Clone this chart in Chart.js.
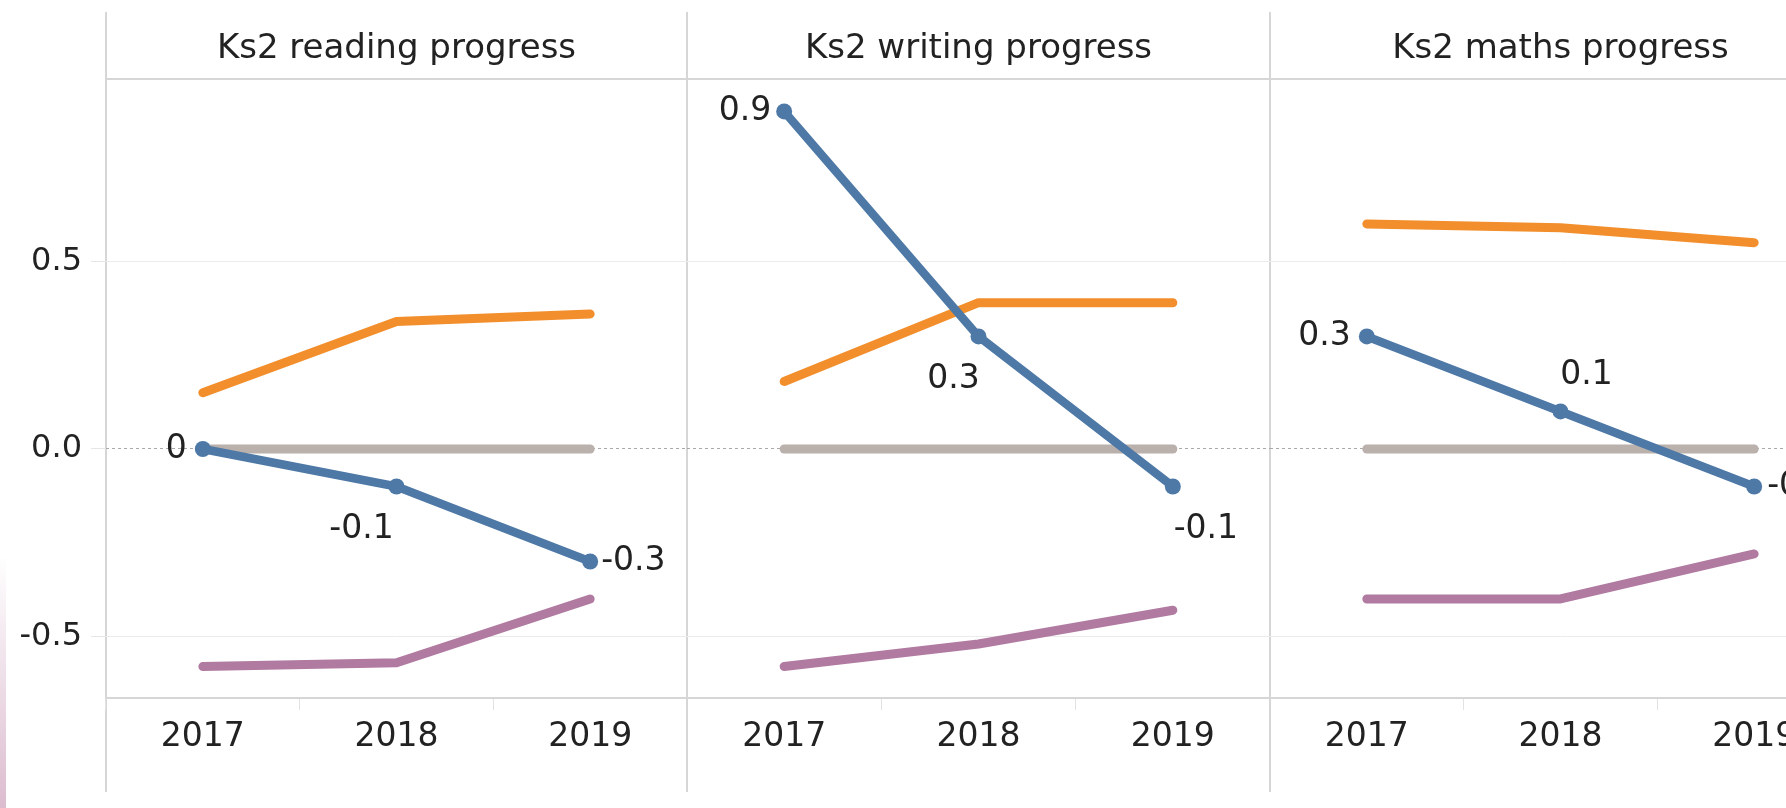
<!DOCTYPE html>
<html>
<head>
<meta charset="utf-8">
<title>Ks2 progress</title>
<script src="https://cdn.jsdelivr.net/npm/chart.js@4.4.1/dist/chart.umd.min.js"></script>
<style>
  html, body { margin: 0; padding: 0; background: #fff; overflow: hidden; }
  #wrap { position: relative; width: 1786px; height: 808px; overflow: hidden; }
  canvas { position: absolute; top: 0; }
  .vline { position: absolute; top: 12px; height: 780px; width: 2px; background: #d6d6d6; }
  .hline { position: absolute; top: 78px; left: 106px; right: 0; height: 2px; background: #d6d6d6; }
  .edge { position: absolute; left: 0; top: 556px; width: 6px; height: 252px;
          background: linear-gradient(#ffffff, #dcbccf); }
</style>
</head>
<body>
<div id="wrap">
  <div class="vline" style="left:105px"></div>
  <div class="vline" style="left:686px"></div>
  <div class="vline" style="left:1269px"></div>
  <div class="hline"></div>
  <div class="edge"></div>
  <canvas id="c0" width="687" height="808" style="left:0"></canvas>
  <canvas id="c1" width="583" height="808" style="left:687px"></canvas>
  <canvas id="c2" width="581" height="808" style="left:1270px"></canvas>
</div>

<script>
// =========================
// DATA
// =========================
const years = ["2017", "2018", "2019"];
const titles = ["Ks2 reading progress", "Ks2 writing progress", "Ks2 maths progress"];
const yTicks = [-0.5, 0.0, 0.5];

// school progress score (labelled blue line), one row per panel
const school = [
  [0, -0.1, -0.3],
  [0.9, 0.3, -0.1],
  [0.3, 0.1, -0.1]
];
// orange comparison line
const upper = [
  [0.15, 0.34, 0.36],
  [0.18, 0.39, 0.39],
  [0.6, 0.59, 0.55]
];
// purple comparison line
const lower = [
  [-0.58, -0.57, -0.4],
  [-0.58, -0.52, -0.43],
  [-0.4, -0.4, -0.28]
];
// grey national average line
const national = [0, 0, 0];

// where each blue value label sits next to its point: [dx, dy, align]
const labelSpots = [
  [[-16, 0, "right"], [-35, 43, "center"], [11, 0, "left"]],
  [[-13, 0, "right"], [-25, 43, "center"], [33, 43, "center"]],
  [[-16, 0, "right"], [26, -36, "center"], [13, 0, "left"]]
];

const Y_MIN = -0.664;
const Y_MAX = 0.987;

const BLUE = "#4e79a7";
const ORANGE = "#f28e2b";
const PURPLE = "#b07aa1";
const GREY = "#bab0ac";
const INK = "#222";
const FAMILY = "'DejaVu Sans', sans-serif";

const $ = (id) => document.getElementById(id);

// =========================
// VALUE LABELS (blue line only)
// =========================
const labelPlugin = (p) => ({
  id: "valueLabels",
  afterDatasetsDraw(chart) {
    const ctx = chart.ctx;
    const pts = chart.getDatasetMeta(0).data;
    ctx.save();
    ctx.font = "33px " + FAMILY;
    ctx.fillStyle = INK;
    ctx.textBaseline = "middle";
    pts.forEach((pt, j) => {
      const [dx, dy, align] = labelSpots[p][j];
      ctx.textAlign = align;
      ctx.fillText(String(school[p][j]), pt.x + dx, pt.y + dy);
    });
    ctx.restore();
  }
});

const line = (label, data, color, extra) => Object.assign({
  label,
  data,
  borderColor: color,
  backgroundColor: color,
  borderWidth: 9,
  borderCapStyle: "round",
  borderJoinStyle: "round",
  pointRadius: 0,
  pointHoverRadius: 0,
  tension: 0
}, extra || {});

// =========================
// PANELS
// =========================
const makePanel = (p) => {
  const first = p === 0;

  return new Chart($("c" + p), {
    type: "line",
    data: {
      labels: years,
      datasets: [
        line("School", school[p], BLUE, { borderWidth: 8.5, pointRadius: 8, pointHoverRadius: 8, pointBorderWidth: 0 }),
        line("Upper", upper[p], ORANGE),
        line("Lower", lower[p], PURPLE),
        line("National", national, GREY)
      ]
    },
    options: {
      responsive: false,
      animation: false,
      events: [],
      layout: { padding: 0, autoPadding: false },
      plugins: {
        legend: { display: false },
        tooltip: { enabled: false },
        title: {
          display: true,
          text: titles[p],
          fullSize: false,
          color: INK,
          font: { family: FAMILY, size: 34, weight: "normal" },
          padding: { top: 29, bottom: 9 }
        }
      },
      scales: {
        x: {
          offset: true,
          grid: { offset: true, drawOnChartArea: false, tickLength: 12, color: "#e2e2e2" },
          border: { display: true, color: "#d6d6d6", width: 2 },
          ticks: { color: INK, font: { family: FAMILY, size: 33 }, padding: 8, maxRotation: 0 },
          afterFit: (s) => {
            s.height = 110;
            s.paddingLeft = 0;
            s.paddingRight = 0;
          }
        },
        y: {
          min: Y_MIN,
          max: Y_MAX,
          afterBuildTicks: (s) => { s.ticks = yTicks.map(v => ({ value: v })); },
          afterFit: (s) => { s.width = first ? 106 : 0; },
          grid: {
            color: (c) => c.tick && c.tick.value === 0 ? "#a9a9a9" : "#ececec",
            lineWidth: 1,
            drawTicks: first,
            tickLength: 15,
            tickColor: "#e6e6e6"
          },
          border: {
            display: false,
            dash: (c) => c.tick && c.tick.value === 0 ? [3, 3] : []
          },
          ticks: {
            display: first,
            color: INK,
            font: { family: FAMILY, size: 32 },
            padding: 9,
            callback: (v) => Number(v).toFixed(1)
          }
        }
      }
    },
    plugins: [labelPlugin(p)]
  });
};

[0, 1, 2].forEach(makePanel);
</script>
</body>
</html>
